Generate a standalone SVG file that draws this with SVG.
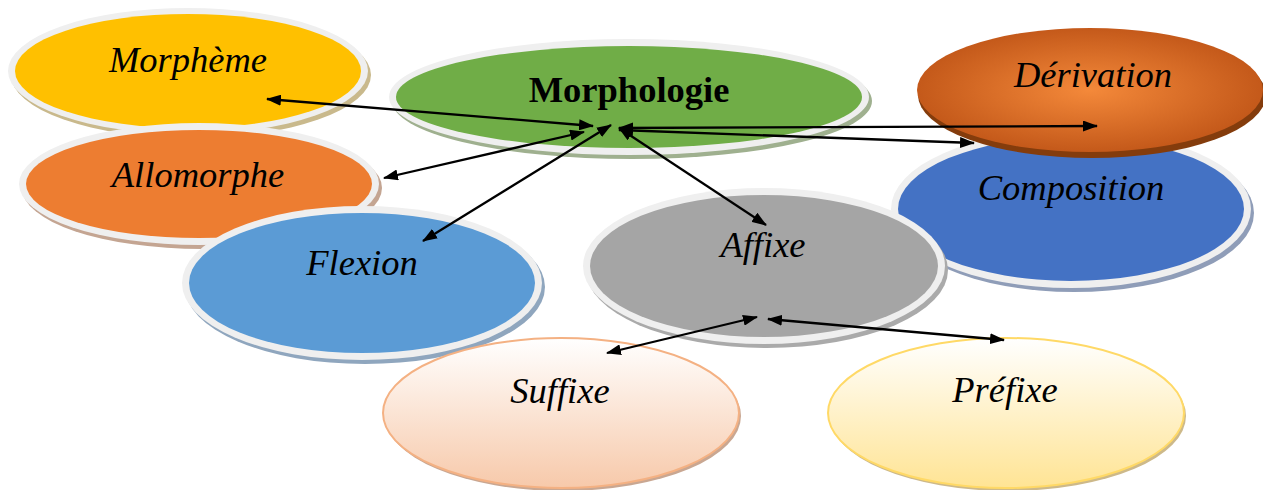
<svg xmlns="http://www.w3.org/2000/svg" width="1263" height="490" viewBox="0 0 1263 490">
<style>
.lbl{font-family:"Liberation Serif","Times New Roman",serif;font-size:36.5px;font-style:italic;fill:#000;text-anchor:middle}
.bold{font-style:normal;font-weight:bold}
.ring{fill:#EFEFEF}
.conn{stroke:#000;stroke-width:2.3;fill:none;marker-start:url(#ah);marker-end:url(#ah)}
</style>
<defs>
<marker id="ah" markerUnits="userSpaceOnUse" markerWidth="15" markerHeight="11" refX="14" refY="5.5" orient="auto-start-reverse">
<path d="M0,0 L15,5.5 L0,11 z" fill="#000"/>
</marker>
<radialGradient id="gDer" cx="0.5" cy="0.5" r="0.5">
<stop offset="0" stop-color="#F4893A"/>
<stop offset="1" stop-color="#C4591A"/>
</radialGradient>
<linearGradient id="gSuf" x1="0" y1="0" x2="0" y2="1">
<stop offset="0" stop-color="#FFFFFF"/>
<stop offset="1" stop-color="#F7C9AA"/>
</linearGradient>
<linearGradient id="gPre" x1="0" y1="0" x2="0" y2="1">
<stop offset="0" stop-color="#FFFFFF"/>
<stop offset="1" stop-color="#FFE494"/>
</linearGradient>
</defs>

<g id="morpheme">
<ellipse cx="191" cy="75" rx="180" ry="63" fill="#C9B98C"/>
<ellipse class="ring" cx="188" cy="71" rx="180" ry="63"/>
<ellipse cx="188" cy="71" rx="173" ry="57" fill="#FFC000"/>
<text class="lbl" x="188" y="72">Morphème</text>
</g>

<g id="allomorphe">
<ellipse cx="202" cy="188" rx="180" ry="61" fill="#C4A592"/>
<ellipse class="ring" cx="199" cy="184" rx="180" ry="61"/>
<ellipse cx="199" cy="184" rx="173" ry="54" fill="#ED7D31"/>
<text class="lbl" x="198" y="187">Allomorphe</text>
</g>

<g id="morphologie">
<ellipse cx="632" cy="101" rx="240" ry="58" fill="#9FB08F"/>
<ellipse class="ring" cx="629" cy="97" rx="240" ry="58"/>
<ellipse cx="629" cy="97" rx="233" ry="51" fill="#70AD47"/>
<text class="lbl bold" x="629" y="102">Morphologie</text>
</g>

<g id="composition">
<ellipse cx="1074" cy="213" rx="180" ry="79" fill="#8F9DB8"/>
<ellipse class="ring" cx="1071" cy="209" rx="180" ry="79"/>
<ellipse cx="1071" cy="209" rx="173" ry="72" fill="#4472C4"/>
<text class="lbl" x="1071" y="200">Composition</text>
</g>

<g id="derivation">
<ellipse cx="1092" cy="95" rx="174" ry="63" fill="#843C0C"/>
<ellipse cx="1090" cy="90" rx="173" ry="62" fill="url(#gDer)"/>
<text class="lbl" x="1093" y="87">Dérivation</text>
</g>

<g id="flexion">
<ellipse cx="365" cy="287" rx="180" ry="77" fill="#8FA6BE"/>
<ellipse class="ring" cx="362" cy="283" rx="180" ry="77"/>
<ellipse cx="362" cy="283" rx="173" ry="70" fill="#5B9BD5"/>
<text class="lbl" x="362" y="275">Flexion</text>
</g>

<g id="affixe">
<ellipse cx="767" cy="270" rx="181" ry="78" fill="#AAAAAA"/>
<ellipse class="ring" cx="764" cy="266" rx="181" ry="78"/>
<ellipse cx="764" cy="266" rx="174" ry="71" fill="#A5A5A5"/>
<text class="lbl" x="763" y="257">Affixe</text>
</g>

<g id="suffixe">
<ellipse cx="563" cy="416" rx="178" ry="75" fill="#C9A792"/>
<ellipse cx="561" cy="413" rx="178" ry="75" fill="url(#gSuf)" stroke="#F4B183" stroke-width="2"/>
<text class="lbl" x="560" y="403">Suffixe</text>
</g>

<g id="prefixe">
<ellipse cx="1008" cy="416" rx="178" ry="75" fill="#CDB98A"/>
<ellipse cx="1006" cy="413" rx="178" ry="75" fill="url(#gPre)" stroke="#FFD966" stroke-width="2"/>
<text class="lbl" x="1005" y="402">Préfixe</text>
</g>

<g id="connectors">
<line class="conn" x1="267" y1="99" x2="593" y2="126"/>
<line class="conn" x1="384" y1="178" x2="584" y2="132"/>
<line class="conn" x1="423" y1="241" x2="611" y2="125"/>
<line class="conn" x1="619" y1="128" x2="766" y2="225"/>
<line class="conn" x1="619" y1="128" x2="1097" y2="126"/>
<line class="conn" x1="619" y1="130" x2="974" y2="143"/>
<line class="conn" x1="607" y1="353" x2="757" y2="317"/>
<line class="conn" x1="768" y1="319" x2="1004" y2="340"/>
</g>
</svg>
